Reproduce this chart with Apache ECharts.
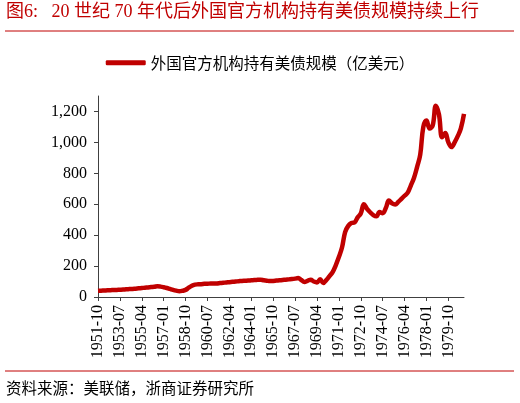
<!DOCTYPE html>
<html>
<head>
<meta charset="utf-8">
<script src="https://cdn.jsdelivr.net/npm/echarts@6/dist/echarts.min.js"></script>
<style>
html, body { margin: 0; padding: 0; background: #fff; }
#main { width: 520px; height: 403px; }
</style>
</head>
<body>
<div id="main"></div>
<script>
// 季度数据，1951-10 起
let seriesName = '外国官方机构持有美债规模（亿美元）'
let holdings = [
	40, 41, 42, 43, 44, 45, 46, 47, 48, 50, 51, 52, 54, 56, 58, 60, 62, 64, 66, 69,
	67, 63, 58, 52, 46, 41, 37,
	40, 46, 60, 73, 80,
	82, 83, 85, 86, 87, 88, 88, 90, 92, 94, 96, 98,
	100, 102, 104, 105, 106, 108, 110, 111, 112,
	108, 105, 103, 104,
	106, 108, 110, 112, 114, 116, 119, 123,
	110, 97, 105, 112, 100, 94, 115, 90,
	110, 135, 161, 205, 258, 320,
	420, 460, 478, 482, 515, 540,
	600, 570, 548, 530, 522, 549, 542,
	575, 624, 605, 598, 615, 635, 655, 675, 721, 770, 840, 920,
	1100, 1141, 1090, 1110, 1237, 1180, 1033, 1060, 1000, 970, 1000, 1040, 1090, 1184
]
let yTicks = [0, 200, 400, 600, 800, 1000, 1200]

// 类目：季度日期
let dates = []
for (let i = 0; i < holdings.length; i++) {
	let m = 10 + i * 3
	let y = 1951 + Math.floor((m - 1) / 12)
	let mm = ((m - 1) % 12) + 1
	dates.push(y + '-' + (mm < 10 ? '0' + mm : mm))
}

let serif = '"Liberation Serif", "Noto Sans CJK SC"'
let red = '#C00000'

let chart = echarts.init(document.getElementById('main'))
let option = {
	backgroundColor: '#fff',
	animation: false,
	grid: {
		left: 98,
		right: 56,
		top: 96,
		bottom: 106
	},
	legend: {
		top: 50,
		left: 'center',
		icon: 'roundRect',
		itemWidth: 40,
		itemHeight: 5,
		itemGap: 6,
		textStyle: {
			color: '#000',
			fontSize: 15.5,
			fontFamily: '"Noto Sans CJK SC"'
		},
		data: [seriesName]
	},
	graphic: [
		{
			type: 'text',
			left: 6,
			top: 3,
			style: {
				text: '图6:   20 世纪 70 年代后外国官方机构持有美债规模持续上行',
				fill: red,
				fontSize: 18,
				fontFamily: serif
			}
		},
		{
			type: 'line',
			shape: { x1: 5, y1: 31, x2: 514, y2: 31 },
			style: { stroke: red, lineWidth: 1 }
		},
		{
			type: 'line',
			shape: { x1: 5, y1: 371, x2: 514, y2: 371 },
			style: { stroke: red, lineWidth: 1 }
		},
		{
			type: 'text',
			left: 6,
			top: 380,
			style: {
				text: '资料来源：美联储，浙商证券研究所',
				fill: '#000',
				fontSize: 15.5,
				fontFamily: '"Noto Sans CJK SC"'
			}
		}
	],
	xAxis: {
		type: 'category',
		boundaryGap: false,
		data: dates,
		axisLine: {
			lineStyle: { color: '#404040', width: 1 }
		},
		axisTick: {
			interval: 6,
			length: 4,
			lineStyle: { color: '#404040' }
		},
		axisLabel: {
			interval: 6,
			rotate: 90,
			margin: 8,
			color: '#000',
			fontSize: 16,
			fontFamily: serif
		},
		splitLine: { show: false }
	},
	yAxis: {
		type: 'value',
		min: 0,
		max: 1300,
		interval: 200,
		axisLine: {
			show: true,
			lineStyle: { color: '#404040', width: 1 }
		},
		axisTick: {
			show: true,
			length: 4,
			customValues: yTicks,
			lineStyle: { color: '#404040' }
		},
		axisLabel: {
			customValues: yTicks,
			margin: 11,
			color: '#000',
			fontSize: 16,
			fontFamily: serif,
			formatter: function(v) {
				return v.toLocaleString('en-US')
			}
		},
		splitLine: { show: false }
	},
	series: [{
		name: seriesName,
		type: 'line',
		data: holdings,
		smooth: 0.4,
		showSymbol: false,
		symbol: 'none',
		lineStyle: {
			color: red,
			width: 4.5
		},
		itemStyle: { color: red }
	}]
}
chart.setOption(option)
</script>
</body>
</html>
